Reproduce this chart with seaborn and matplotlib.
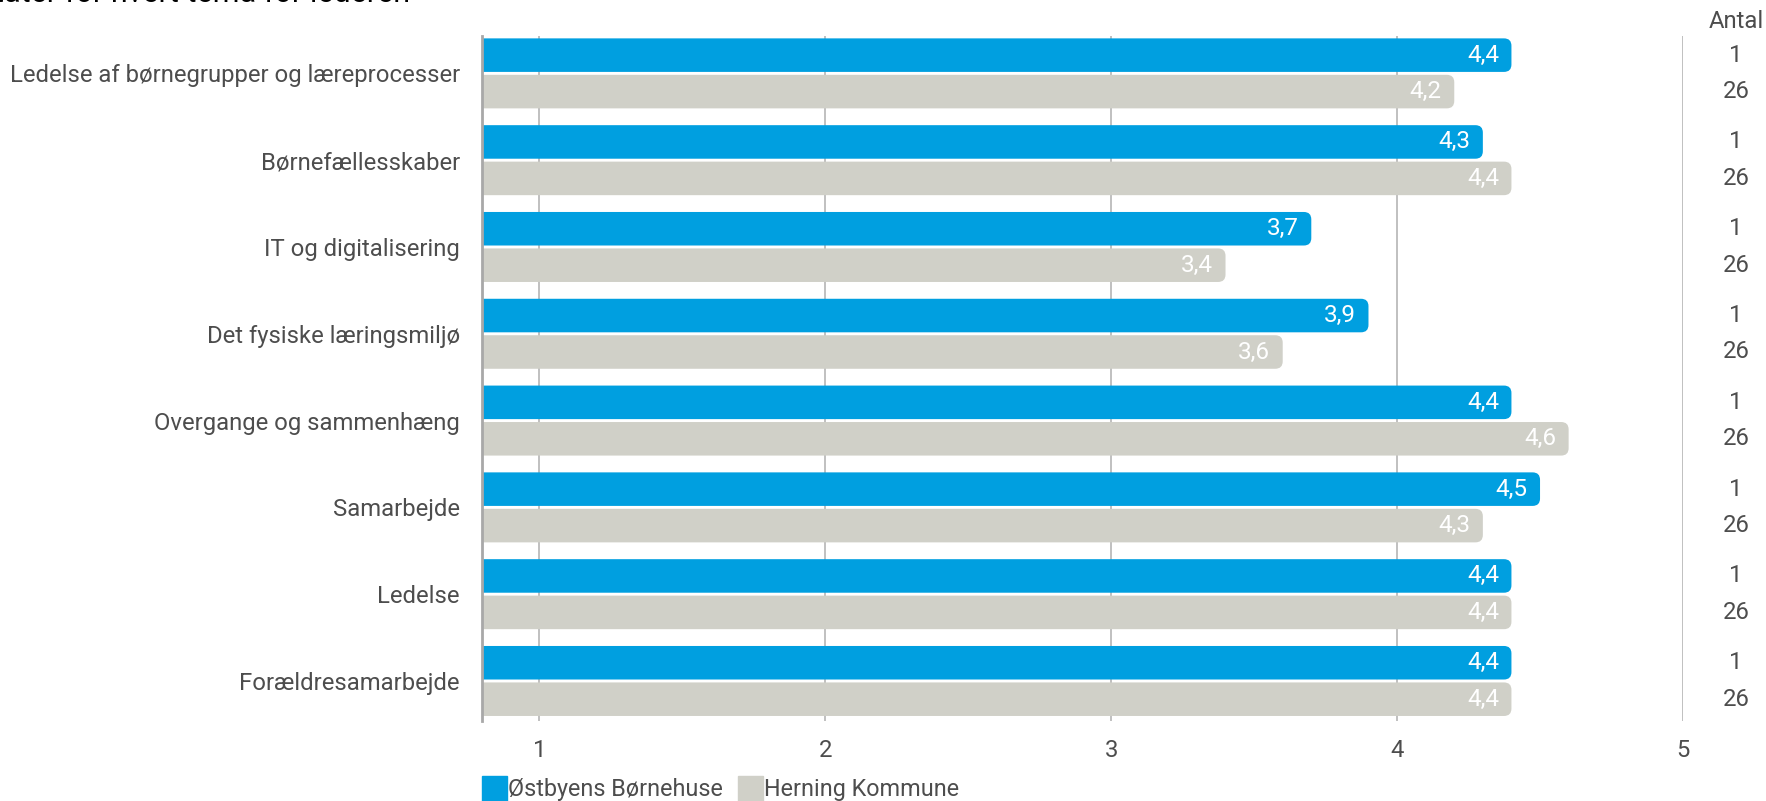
import pandas as pd
import matplotlib
matplotlib.use("Agg")
import matplotlib.pyplot as plt
from matplotlib.patches import FancyBboxPatch
from matplotlib.lines import Line2D
import seaborn as sns

temaer = ["Ledelse af børnegrupper og læreprocesser", "Børnefællesskaber",
          "IT og digitalisering", "Det fysiske læringsmiljø",
          "Overgange og sammenhæng", "Samarbejde", "Ledelse",
          "Forældresamarbejde"]
serier = ["Østbyens Børnehuse", "Herning Kommune"]
oestbyen = [4.4, 4.3, 3.7, 3.9, 4.4, 4.5, 4.4, 4.4]
herning = [4.2, 4.4, 3.4, 3.6, 4.6, 4.3, 4.4, 4.4]
antal_oestbyen = [1, 1, 1, 1, 1, 1, 1, 1]
antal_herning = [26, 26, 26, 26, 26, 26, 26, 26]
x_ticks = [1, 2, 3, 4, 5]

blaa = "#009FE0"
graa = "#D0D0C8"
tekst = "#4D4D4D"
fs = 17.2

df = pd.DataFrame({
    "tema": temaer * 2,
    "serie": [serier[0]] * len(temaer) + [serier[1]] * len(temaer),
    "score": oestbyen + herning,
})

sns.set_style("white")
plt.rcParams["font.family"] = ["Roboto", "DejaVu Sans"]

fig = plt.figure(figsize=(17.66, 8.01), dpi=100)
ax = fig.add_axes([0.273, 0.1, 0.68, 0.855])

sns.barplot(data=df, y="tema", x="score", hue="serie", orient="h",
            palette=[blaa, graa], saturation=1, width=0.84, gap=0.08,
            order=temaer, hue_order=serier, legend=False, ax=ax)

ax.set_xlim(0.8, 5)
ax.set_ylim(7.46, -0.43)

# labels inside the bar ends
for cont, vals in zip(ax.containers, [oestbyen, herning]):
    lbls = ax.bar_label(cont, labels=[f"{v:.1f}".replace(".", ",") for v in vals],
                        padding=-9, color="white", fontsize=17.5)
    for t in lbls:
        t.set_ha("right")

# rounded bar ends
r = 0.026
for cont in ax.containers:
    for p in cont:
        x0, y0 = p.get_x(), p.get_y()
        w, h = p.get_width(), p.get_height()
        fb = FancyBboxPatch((x0, y0), w, h,
                            boxstyle=f"round,pad=0,rounding_size={r}",
                            mutation_aspect=3.29, facecolor=p.get_facecolor(),
                            edgecolor="none", zorder=2)
        p.set_visible(False)
        ax.add_patch(fb)

ax.set_xticks(x_ticks)
ax.xaxis.grid(True, color="#B5B5B5", linewidth=1.2)
ax.set_axisbelow(True)
ax.tick_params(axis="x", length=0, pad=13, labelsize=fs, labelcolor=tekst)
ax.tick_params(axis="y", length=0, pad=16, labelsize=fs, labelcolor=tekst)
ax.set_xlabel("")
ax.set_ylabel("")
for s in ["top", "right", "bottom"]:
    ax.spines[s].set_visible(False)
ax.spines["left"].set_color("#A8A8A8")
ax.spines["left"].set_linewidth(2)

# antal column
ax.text(5.185, -0.6, "Antal", ha="center", va="center", fontsize=fs,
        color=tekst, clip_on=False)
for i in range(len(temaer)):
    ax.text(5.185, i - 0.21, str(antal_oestbyen[i]), ha="center", va="center",
            fontsize=fs, color=tekst, clip_on=False)
    ax.text(5.185, i + 0.21, str(antal_herning[i]), ha="center", va="center",
            fontsize=fs, color=tekst, clip_on=False)

handles = [Line2D([0], [0], marker="s", linestyle="none", markersize=18,
                  markerfacecolor=c, markeredgecolor=c) for c in [blaa, graa]]
ax.legend(handles, serier, loc="center left", bbox_to_anchor=(-0.018, -0.1),
          ncol=2, frameon=False, fontsize=16.8, handletextpad=0.05,
          columnspacing=0.6, labelcolor=tekst, handlelength=1.1)

fig.text(0.232, 1 - 1.5 / 801, "Resultater for hvert tema for lederen",
         ha="right", va="baseline", fontsize=22, color="black")

fig.savefig("out.png", dpi=100)
